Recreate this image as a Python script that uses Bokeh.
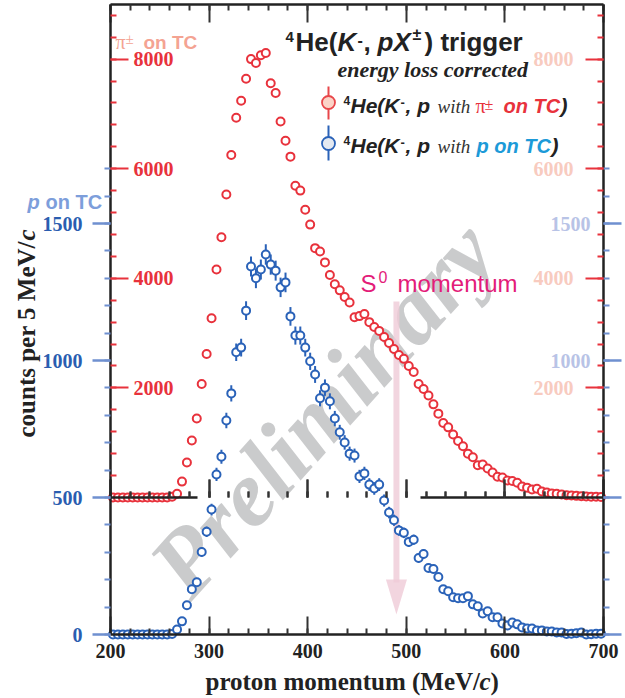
import math
import numpy as np
from bokeh.plotting import figure
from bokeh.models import Range1d, LinearAxis, FixedTicker, Label
from bokeh.core.properties import value
from bokeh.embed import file_html
from bokeh.resources import INLINE

# ---------------- data ----------------
momentum = [202.5 + 5 * i for i in range(100)]  # 5 MeV/c bin centres

pi_on_tc = [0, 0, 0, 0, 0, 0, 0, 0, 0, 0,
            0, 0, 15, 70, 290, 640, 1040, 1440, 2070, 2620,
            3270, 4160, 4750, 5530, 6250, 6930, 7240, 7640, 8000, 7930,
            8070, 8110, 7560, 7380, 6860, 6510, 6220, 5690, 5600, 5250,
            4980, 4550, 4490, 4290, 4060, 3890, 3780, 3660, 3560, 3290,
            3310, 3350, 3200, 3110, 3040, 2930, 2820, 2710, 2600, 2530,
            2400, 2290, 2070, 1980, 1860, 1700, 1530, 1360, 1280, 1150,
            1030, 935, 800, 735, 590, 600, 530, 455, 380, 365,
            310, 300, 270, 200, 180, 145, 160, 110, 90, 75,
            70, 55, 40, 35, 30, 25, 20, 15, 15, 10]

p_on_tc = [0, 0, 0, 0, 0, 0, 0, 0, 0, 0,
           0, 0, 2, 18, 48, 107, 165, 191, 301, 375,
           456, 584, 649, 781, 880, 1030, 1047, 1182, 1343, 1300,
           1332, 1387, 1350, 1328, 1267, 1285, 1161, 1091, 1091, 1047,
           997, 949, 862, 901, 851, 788, 738, 701, 660, 653,
           577, 588, 547, 533, 547, 489, 445, 417, 380, 371,
           338, 346, 279, 294, 243, 239, 210, 165, 158, 136,
           132, 132, 140, 110, 103, 77, 85, 63, 63, 40,
           33, 44, 37, 26, 22, 22, 15, 15, 11, 11,
           7, 7, 2, 3, 5, 7, 0, 1, 3, 3]

x_major = [200, 300, 400, 500, 600, 700]
x_minor = list(range(200, 701, 20))
blue_major = [0, 500, 1000, 1500]
blue_minor = list(range(0, 1701, 100))
red_major = [2000, 4000, 6000, 8000]
red_minor = list(range(400, 8801, 400))
blue_right_labels = [1000, 1500]
S0_MOMENTUM = 490

# ---------------- geometry helpers (pixel -> data) ----------------
FL, FB = 110, 634          # axis frame left / bottom in px
KX, KY = 0.986, 0.274      # px per unit
RED_PER_BLUE = 5.0         # red counts per blue count (scale ratio)
RED0_BLUE = 500.0          # red zero sits at blue 500


def dx(px):
    return 200 + (px - FL) / KX


def dy(py):
    return (FB - py) / KY


Y_TOP = dy(4)

RED = "#e8323c"
BLUE = "#2a62b8"
BLACK = "#222222"
SERIF = "Liberation Serif"
SANS = "Liberation Sans"

p = figure(width=625, height=698, x_range=Range1d(dx(0), dx(625)), y_range=Range1d(dy(698), dy(0)),
           output_backend="svg", toolbar_location=None,
           min_border_left=0, min_border_right=0, min_border_top=0, min_border_bottom=0)
p.extra_y_ranges = {"red": Range1d((dy(698) - RED0_BLUE) * RED_PER_BLUE, (dy(0) - RED0_BLUE) * RED_PER_BLUE)}
p.grid.visible = False
p.outline_line_color = None
p.background_fill_color = "white"
p.border_fill_color = "white"


def style_ticks(ax, color, major_w=2.0, minor_w=2.0):
    ax.major_tick_line_color = color
    ax.minor_tick_line_color = color
    ax.major_tick_line_width = major_w
    ax.minor_tick_line_width = minor_w


# bottom axis
xa = p.xaxis[0]
xa.fixed_location = 0
xa.bounds = (200, 700)
xa.ticker = FixedTicker(ticks=x_major, minor_ticks=x_minor)
xa.major_tick_in, xa.major_tick_out = 18, 0
xa.minor_tick_in, xa.minor_tick_out = 6, 0
xa.axis_line_width = 2.5
xa.axis_line_color = BLACK
style_ticks(xa, "#333333")
xa.major_label_text_font = SERIF
xa.major_label_text_font_style = "bold"
xa.major_label_text_font_size = "20px"
xa.major_label_text_color = BLACK
xa.major_label_standoff = 9

# left (blue) axis
ya = p.yaxis[0]
ya.fixed_location = 200
ya.bounds = (0, Y_TOP)
ya.ticker = FixedTicker(ticks=blue_major, minor_ticks=blue_minor)
ya.major_tick_out, ya.major_tick_in = 18, 0
ya.minor_tick_out, ya.minor_tick_in = 6, 0
style_ticks(ya, "#6f90d0", 2.5, 2)
ya.axis_line_color = BLACK
ya.axis_line_width = 2.5
ya.major_label_text_font = SERIF
ya.major_label_text_font_style = "bold"
ya.major_label_text_font_size = "20px"
ya.major_label_text_color = "#2a5db0"
ya.major_label_standoff = 10

# right (blue) axis: ticks only
ra = LinearAxis(fixed_location=700, bounds=(0, Y_TOP),
                ticker=FixedTicker(ticks=blue_major, minor_ticks=blue_minor),
                major_tick_out=18, major_tick_in=0, minor_tick_out=6, minor_tick_in=0,
                axis_line_color=BLACK, axis_line_width=2.5, major_label_text_color=None)
style_ticks(ra, "#6f90d0", 2.5, 2)
p.add_layout(ra, "right")

# top axis: ticks only, pointing down
ta = LinearAxis(fixed_location=Y_TOP, bounds=(200, 700),
                ticker=FixedTicker(ticks=x_major, minor_ticks=x_minor),
                major_tick_in=18, major_tick_out=0, minor_tick_in=6, minor_tick_out=0,
                axis_line_color=BLACK, axis_line_width=2.5, major_label_text_color=None)
style_ticks(ta, "#333333")
p.add_layout(ta, "above")

# red axes (inward ticks) on both sides
for side, loc in (("left", 200), ("right", 700)):
    rax = LinearAxis(y_range_name="red", fixed_location=loc,
                     ticker=FixedTicker(ticks=red_major, minor_ticks=red_minor),
                     major_tick_in=18, major_tick_out=0, minor_tick_in=6, minor_tick_out=0,
                     axis_line_color=None, major_label_text_color=None)
    style_ticks(rax, RED)
    p.add_layout(rax, side)

# inner x axis at red zero (broken where the data run)
inner_bounds = [(200, 288), (514, 700)]
for lo, hi in inner_bounds:
    ia = LinearAxis(fixed_location=RED0_BLUE, bounds=(lo, hi),
                    ticker=FixedTicker(ticks=x_major, minor_ticks=x_minor),
                    major_tick_in=18, major_tick_out=0, minor_tick_in=6, minor_tick_out=0,
                    axis_line_color=BLACK, axis_line_width=2.5, major_label_text_color=None)
    style_ticks(ia, "#333333")
    p.add_layout(ia, "below")

# watermark
p.text(x=[dx(322)], y=[dy(408)], text=["Preliminary"], angle=math.radians(48),
       text_font=value(SERIF), text_font_style="bold italic", text_font_size="94px",
       text_color="#c4c5c7", text_alpha=0.9, text_align="center", text_baseline="middle")

# S0 arrow
ARROW_C = "#efcbd7"
p.segment(x0=[S0_MOMENTUM], y0=[dy(301)], x1=[S0_MOMENTUM], y1=[dy(582)],
          line_width=6, line_color=ARROW_C, line_alpha=0.8)
p.patch(x=[S0_MOMENTUM - 10.5 / KX, S0_MOMENTUM + 10.5 / KX, S0_MOMENTUM],
        y=[dy(579), dy(579), dy(614)], fill_color=ARROW_C, fill_alpha=0.8, line_color=None)

# data
p.scatter(momentum, pi_on_tc, y_range_name="red", size=8, line_width=2, line_color=RED, fill_color="white")
b = np.array(p_on_tc, dtype=float)
err = np.sqrt(b)
p.segment(x0=momentum, y0=b - err, x1=momentum, y1=b + err, line_width=2, line_color=BLUE)
p.scatter(momentum, p_on_tc, size=8, line_width=2, line_color=BLUE, fill_color="white")

# legend markers
lx = dx(328)
p.segment(x0=[lx], y0=[dy(86)], x1=[lx], y1=[dy(119)], line_color="#e8474a", line_width=2)
p.scatter([lx], [dy(102)], size=13, line_color="#e8474a", line_width=1.8, fill_color="#fbd3c7")
p.segment(x0=[lx], y0=[dy(125)], x1=[lx], y1=[dy(160)], line_color=BLUE, line_width=2)
p.scatter([lx], [dy(143)], size=13, line_color=BLUE, line_width=1.8, fill_color="#e4e9f1")

BASE_SHIFT = 0.34  # fraction of font size between requested and drawn alphabetic baseline


def txt(xp, yp, s, font=SANS, style="bold", size=20, color=BLACK, align="left",
        baseline="alphabetic", angle=0.0, alpha=1.0):
    if angle == 0.0:
        yp = yp - BASE_SHIFT * size
    else:
        xp = xp - BASE_SHIFT * size
    p.add_layout(Label(x=dx(xp), y=dy(yp), text=s, text_font=font, text_font_style=style,
                       text_font_size=f"{size}px", text_color=color, text_align=align,
                       text_baseline=baseline, angle=angle, text_alpha=alpha))


# title
txt(285, 42, "4", size=15)
txt(295, 50, "He(", size=26)
txt(337, 50, "K", style="bold italic", size=26)
txt(357, 45, "-", size=16)
txt(363, 50, ",", size=26)
txt(377, 50, "pX", style="bold italic", size=26)
txt(412, 39, "±", size=16)
txt(424, 50, ") trigger", size=26)
txt(337, 76, "energy loss corrected", font=SERIF, style="bold italic", size=22, color="#222222")

# legend rows
for yb in (112, 152):
    txt(343, yb - 8, "4", size=12)
    txt(350, yb, "He(K", style="bold italic", size=21)
    txt(400, yb - 6, "-", size=13)
    txt(405, yb, ", p", style="bold italic", size=21)
    txt(437, yb, "with", font=SERIF, style="italic", size=19, color="#333333")
txt(475, 112, "π", font=SERIF, style="normal", size=20, color="#e8323c")
txt(484, 109, "±", font=SERIF, style="normal", size=16, color="#e8323c")
txt(503, 112, "on TC", style="bold italic", size=20, color="#e8323c")
txt(560, 112, ")", style="bold italic", size=21)
txt(476, 152, "p on TC", style="bold italic", size=20, color="#1c9ad8")
txt(551, 152, ")", style="bold italic", size=21)

# side labels
txt(115, 48, "π", font=SERIF, style="normal", size=20, color="#f4a392")
txt(125, 44, "±", font=SERIF, style="normal", size=15, color="#f4a392")
txt(143, 48, "on TC", style="bold", size=19, color="#f4a392")
txt(27, 208, "p", style="bold italic", size=20, color="#7d9edb")
txt(45, 208, "on TC", style="bold", size=20, color="#7d9edb")

# red labels inside left and faded right
for r in red_major:
    p.add_layout(Label(x=dx(133), y=r, y_range_name="red", text=str(r), text_font=SERIF,
                       text_font_style="bold", text_font_size="20px", text_color=RED,
                       text_align="left", text_baseline="middle"))
    p.add_layout(Label(x=dx(573), y=r, y_range_name="red", text=str(r), text_font=SERIF,
                       text_font_style="bold", text_font_size="20px", text_color="#f8cbbf",
                       text_align="right", text_baseline="middle"))
for bl in blue_right_labels:
    p.add_layout(Label(x=dx(590), y=bl, text=str(bl), text_font=SERIF,
                       text_font_style="bold", text_font_size="20px", text_color="#b8c3e6",
                       text_align="right", text_baseline="middle"))

# S0 momentum
txt(360, 291, "S", style="normal", size=24, color="#e31c79")
txt(378, 282, "0", style="normal", size=16, color="#e31c79")
txt(397, 291, "momentum", style="normal", size=24, color="#e31c79")

# axis titles
txt(205, 689, "proton momentum (MeV/", font=SERIF, style="bold", size=25)
txt(479, 689, "c", font=SERIF, style="bold italic", size=25)
txt(490, 689, ")", font=SERIF, style="bold", size=25)
txt(34, 437, "counts per 5 MeV/", font=SERIF, style="bold", size=25, angle=math.pi / 2)
txt(34, 240, "c", font=SERIF, style="bold italic", size=25, angle=math.pi / 2)

open("out.html", "w").write(file_html(p, INLINE))
